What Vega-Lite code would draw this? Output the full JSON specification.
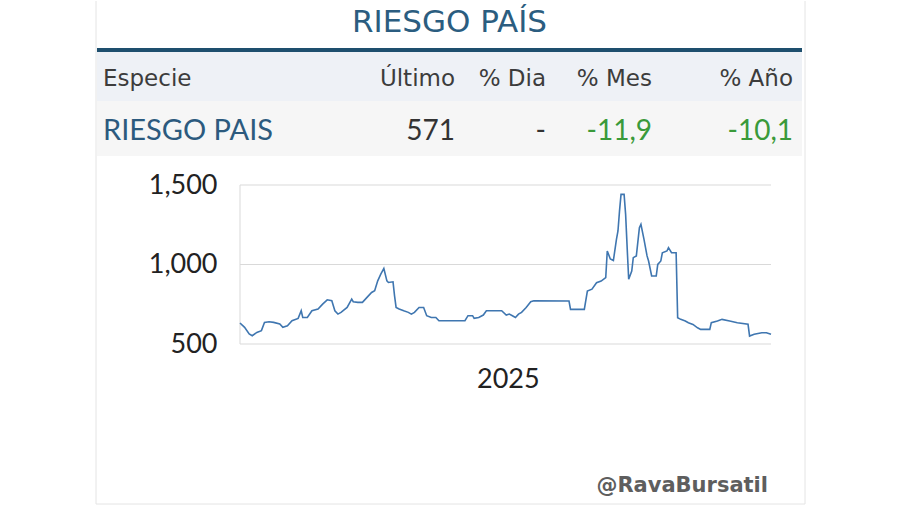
{
  "$schema": "https://vega.github.io/schema/vega-lite/v6.json",
  "width": 900,
  "height": 505,
  "autosize": {"type": "fit", "contains": "padding"},
  "padding": 0,
  "background": "#ffffff",
  "config": {"view": {"stroke": null}},
  "datasets": {
    "series": [
      {"date": "2025-01-02", "v": 632}, {"date": "2025-01-05", "v": 605}, {"date": "2025-01-08", "v": 563},
      {"date": "2025-01-10", "v": 552}, {"date": "2025-01-13", "v": 573}, {"date": "2025-01-16", "v": 584},
      {"date": "2025-01-18", "v": 636}, {"date": "2025-01-21", "v": 640}, {"date": "2025-01-24", "v": 636},
      {"date": "2025-01-28", "v": 626}, {"date": "2025-01-30", "v": 605}, {"date": "2025-02-02", "v": 615},
      {"date": "2025-02-05", "v": 646}, {"date": "2025-02-09", "v": 661}, {"date": "2025-02-11", "v": 709},
      {"date": "2025-02-12", "v": 667}, {"date": "2025-02-15", "v": 667}, {"date": "2025-02-18", "v": 709},
      {"date": "2025-02-22", "v": 720}, {"date": "2025-02-25", "v": 751}, {"date": "2025-02-28", "v": 778},
      {"date": "2025-03-03", "v": 772}, {"date": "2025-03-05", "v": 709}, {"date": "2025-03-07", "v": 688},
      {"date": "2025-03-09", "v": 699}, {"date": "2025-03-13", "v": 730}, {"date": "2025-03-16", "v": 782},
      {"date": "2025-03-17", "v": 766}, {"date": "2025-03-20", "v": 762}, {"date": "2025-03-23", "v": 762},
      {"date": "2025-03-26", "v": 793}, {"date": "2025-03-29", "v": 824}, {"date": "2025-03-31", "v": 835},
      {"date": "2025-04-02", "v": 897}, {"date": "2025-04-04", "v": 939}, {"date": "2025-04-06", "v": 975},
      {"date": "2025-04-08", "v": 897}, {"date": "2025-04-09", "v": 887}, {"date": "2025-04-12", "v": 891},
      {"date": "2025-04-13", "v": 803}, {"date": "2025-04-14", "v": 730}, {"date": "2025-04-16", "v": 720},
      {"date": "2025-04-19", "v": 709}, {"date": "2025-04-22", "v": 699}, {"date": "2025-04-24", "v": 688},
      {"date": "2025-04-26", "v": 699}, {"date": "2025-04-29", "v": 730}, {"date": "2025-05-02", "v": 730},
      {"date": "2025-05-04", "v": 678}, {"date": "2025-05-07", "v": 667}, {"date": "2025-05-10", "v": 667},
      {"date": "2025-05-12", "v": 646}, {"date": "2025-05-26", "v": 646}, {"date": "2025-05-29", "v": 646},
      {"date": "2025-05-31", "v": 678}, {"date": "2025-06-03", "v": 678}, {"date": "2025-06-04", "v": 661},
      {"date": "2025-06-07", "v": 667}, {"date": "2025-06-10", "v": 682}, {"date": "2025-06-12", "v": 709},
      {"date": "2025-06-22", "v": 709}, {"date": "2025-06-25", "v": 682}, {"date": "2025-06-27", "v": 688},
      {"date": "2025-06-29", "v": 678}, {"date": "2025-07-01", "v": 667}, {"date": "2025-07-03", "v": 688},
      {"date": "2025-07-05", "v": 699}, {"date": "2025-07-08", "v": 730}, {"date": "2025-07-11", "v": 766},
      {"date": "2025-07-13", "v": 772}, {"date": "2025-08-05", "v": 770}, {"date": "2025-08-06", "v": 718},
      {"date": "2025-08-15", "v": 718}, {"date": "2025-08-17", "v": 833}, {"date": "2025-08-20", "v": 845},
      {"date": "2025-08-23", "v": 885}, {"date": "2025-08-26", "v": 896}, {"date": "2025-08-29", "v": 917},
      {"date": "2025-08-30", "v": 1085}, {"date": "2025-09-01", "v": 1035}, {"date": "2025-09-03", "v": 1025},
      {"date": "2025-09-05", "v": 1158}, {"date": "2025-09-06", "v": 1211}, {"date": "2025-09-07", "v": 1336},
      {"date": "2025-09-08", "v": 1441}, {"date": "2025-09-10", "v": 1441}, {"date": "2025-09-11", "v": 1315},
      {"date": "2025-09-12", "v": 1106}, {"date": "2025-09-13", "v": 907}, {"date": "2025-09-15", "v": 959},
      {"date": "2025-09-16", "v": 1043}, {"date": "2025-09-18", "v": 1054}, {"date": "2025-09-20", "v": 1232},
      {"date": "2025-09-21", "v": 1253}, {"date": "2025-09-23", "v": 1158}, {"date": "2025-09-25", "v": 1054},
      {"date": "2025-09-26", "v": 1022}, {"date": "2025-09-28", "v": 928}, {"date": "2025-10-01", "v": 928},
      {"date": "2025-10-02", "v": 1001}, {"date": "2025-10-04", "v": 1022}, {"date": "2025-10-05", "v": 1074},
      {"date": "2025-10-08", "v": 1085}, {"date": "2025-10-09", "v": 1106}, {"date": "2025-10-11", "v": 1074},
      {"date": "2025-10-14", "v": 1074}, {"date": "2025-10-15", "v": 665}, {"date": "2025-10-17", "v": 655},
      {"date": "2025-10-20", "v": 645}, {"date": "2025-10-22", "v": 634}, {"date": "2025-10-25", "v": 623},
      {"date": "2025-10-28", "v": 602}, {"date": "2025-10-30", "v": 592}, {"date": "2025-11-05", "v": 592},
      {"date": "2025-11-06", "v": 634}, {"date": "2025-11-10", "v": 645}, {"date": "2025-11-13", "v": 655},
      {"date": "2025-11-18", "v": 645}, {"date": "2025-11-23", "v": 634}, {"date": "2025-11-30", "v": 624},
      {"date": "2025-12-01", "v": 550}, {"date": "2025-12-04", "v": 561}, {"date": "2025-12-09", "v": 571},
      {"date": "2025-12-12", "v": 571}, {"date": "2025-12-15", "v": 561}
    ],
    "grid": [{"v": 500}, {"v": 1000}, {"v": 1500}],
    "cells": [
      {"r": 4, "c": 2, "t": "Especie", "k": "h"},
      {"r": 4, "c": 4, "t": "Último", "k": "h"},
      {"r": 4, "c": 5, "t": "% Dia", "k": "h"},
      {"r": 4, "c": 6, "t": "% Mes", "k": "h"},
      {"r": 4, "c": 8, "t": "% Año", "k": "h"},
      {"r": 6, "c": 2, "t": "RIESGO PAIS", "k": "name"},
      {"r": 6, "c": 4, "t": "571", "k": "num"},
      {"r": 6, "c": 5, "t": "-", "k": "num"},
      {"r": 6, "c": 6, "t": "-11,9", "k": "chg"},
      {"r": 6, "c": 8, "t": "-10,1", "k": "chg"}
    ]
  },
  "resolve": {"scale": {"x": "independent", "y": "independent"}},
  "layer": [
    {
      "layer": [
        {
          "data": {"values": [{}]},
          "mark": {"type": "rect", "color": "#eef1f6"},
          "encoding": {
            "x": {"datum": 1, "type": "quantitative", "axis": null, "scale": {"domain": [0, 1, 2, 3, 4, 5, 6, 7, 8, 9, 10], "range": [96, 97, 103, 449.5, 455, 546, 652, 768, 793, 802, 805], "zero": false, "nice": false}},
            "x2": {"datum": 9},
            "y": {"datum": 3, "type": "quantitative", "axis": null, "scale": {"domain": [0, 1, 2, 3, 4, 5, 6, 7, 8, 9], "range": [0, 31, 47, 51, 85, 100, 139, 155, 491, 503], "zero": false, "nice": false}},
            "y2": {"datum": 5}
          }
        },
        {
          "data": {"values": [{}]},
          "mark": {"type": "rect", "color": "#f6f6f6"},
          "encoding": {
            "x": {"datum": 1, "type": "quantitative"},
            "x2": {"datum": 9},
            "y": {"datum": 5, "type": "quantitative"},
            "y2": {"datum": 7}
          }
        },
        {
          "data": {"values": [{}]},
          "mark": {"type": "rect", "color": "#1e4f6e"},
          "encoding": {
            "x": {"datum": 1, "type": "quantitative"},
            "x2": {"datum": 9},
            "y": {"datum": 2, "type": "quantitative"},
            "y2": {"datum": 3}
          }
        },
        {
          "data": {"values": [{"c": 0}, {"c": 10}]},
          "mark": {"type": "rule", "color": "#e4e4e4", "strokeWidth": 1},
          "encoding": {
            "x": {"field": "c", "type": "quantitative"},
            "y": {"datum": 0, "type": "quantitative"},
            "y2": {"datum": 9}
          }
        },
        {
          "data": {"values": [{}]},
          "mark": {"type": "rule", "color": "#e4e4e4", "strokeWidth": 1},
          "encoding": {
            "x": {"datum": 0, "type": "quantitative"},
            "x2": {"datum": 10},
            "y": {"datum": 9, "type": "quantitative"}
          }
        },
        {
          "data": {"values": [{"t": "RIESGO PAÍS"}]},
          "mark": {"type": "text", "font": "DejaVu Sans", "fontSize": 31, "color": "#2b5d80", "align": "center", "baseline": "alphabetic"},
          "encoding": {
            "x": {"datum": 3, "type": "quantitative"},
            "y": {"datum": 1, "type": "quantitative"},
            "text": {"field": "t"}
          }
        },
        {
          "data": {"name": "cells"},
          "transform": [{"filter": "datum.k == 'h' && datum.c == 2"}],
          "mark": {"type": "text", "font": "DejaVu Sans", "fontSize": 23, "color": "#3c3c3c", "align": "left", "baseline": "alphabetic"},
          "encoding": {
            "x": {"field": "c", "type": "quantitative"},
            "y": {"field": "r", "type": "quantitative"},
            "text": {"field": "t"}
          }
        },
        {
          "data": {"name": "cells"},
          "transform": [{"filter": "datum.k == 'h' && datum.c != 2"}],
          "mark": {"type": "text", "font": "DejaVu Sans", "fontSize": 23, "color": "#3c3c3c", "align": "right", "baseline": "alphabetic"},
          "encoding": {
            "x": {"field": "c", "type": "quantitative"},
            "y": {"field": "r", "type": "quantitative"},
            "text": {"field": "t"}
          }
        },
        {
          "data": {"name": "cells"},
          "transform": [{"filter": "datum.k == 'name'"}],
          "mark": {"type": "text", "font": "Lato", "fontSize": 29, "color": "#2c5a7e", "align": "left", "baseline": "alphabetic"},
          "encoding": {
            "x": {"field": "c", "type": "quantitative"},
            "y": {"field": "r", "type": "quantitative"},
            "text": {"field": "t"}
          }
        },
        {
          "data": {"name": "cells"},
          "transform": [{"filter": "datum.k == 'num' || datum.k == 'chg'"}],
          "mark": {"type": "text", "font": "Lato", "fontSize": 28, "align": "right", "baseline": "alphabetic"},
          "encoding": {
            "x": {"field": "c", "type": "quantitative"},
            "y": {"field": "r", "type": "quantitative"},
            "text": {"field": "t"},
            "color": {"condition": {"test": "datum.k == 'chg'", "value": "#3a9a3a"}, "value": "#333333"}
          }
        },
        {
          "data": {"values": [{"t": "@RavaBursatil"}]},
          "mark": {"type": "text", "font": "DejaVu Sans", "fontSize": 21, "fontWeight": "bold", "color": "#5e5e5e", "align": "right", "baseline": "alphabetic"},
          "encoding": {
            "x": {"datum": 7, "type": "quantitative"},
            "y": {"datum": 8, "type": "quantitative"},
            "text": {"field": "t"}
          }
        }
      ]
    },
    {
      "layer": [
        {
          "data": {"name": "grid"},
          "mark": {"type": "rule", "color": "#d9d9d9", "strokeWidth": 1},
          "encoding": {
            "x": {"datum": {"year": 2025, "month": 1, "date": 2, "utc": true}, "type": "temporal"},
            "x2": {"datum": {"year": 2025, "month": 12, "date": 15, "utc": true}},
            "y": {"field": "v", "type": "quantitative"}
          }
        },
        {
          "data": {"values": [{}]},
          "mark": {"type": "rule", "color": "#d9d9d9", "strokeWidth": 1},
          "encoding": {
            "x": {"datum": {"year": 2025, "month": 1, "date": 2, "utc": true}, "type": "temporal"},
            "y": {"datum": 500, "type": "quantitative"},
            "y2": {"datum": 1500}
          }
        },
        {
          "data": {"name": "series"},
          "mark": {"type": "line", "color": "#3f76b0", "strokeWidth": 1.6, "interpolate": "linear"},
          "encoding": {
            "x": {
              "field": "date", "type": "temporal",
              "scale": {"type": "utc", "domain": [{"year": 2025, "month": 1, "date": 2, "utc": true}, {"year": 2025, "month": 12, "date": 15, "utc": true}], "range": [240, 771], "nice": false},
              "axis": {"orient": "bottom", "values": [{"year": 2025, "month": 6, "date": 26, "utc": true}], "format": "%Y", "grid": false, "domain": false, "ticks": false, "tickSize": 0, "labelPadding": 0, "offset": -139, "labelFont": "Lato", "labelFontSize": 27, "labelColor": "#222222", "labelFlush": false, "title": null}
            },
            "y": {
              "field": "v", "type": "quantitative",
              "scale": {"domain": [500, 1500], "range": [343, 184], "zero": false, "nice": false},
              "axis": {"orient": "left", "values": [500, 1000, 1500], "format": ",.0f", "grid": false, "domain": false, "ticks": false, "tickSize": 0, "labelPadding": 0, "offset": -217, "labelFont": "Lato", "labelFontSize": 27, "labelColor": "#222222", "labelFlush": false, "labelOverlap": false, "title": null}
            }
          }
        }
      ]
    }
  ]
}
